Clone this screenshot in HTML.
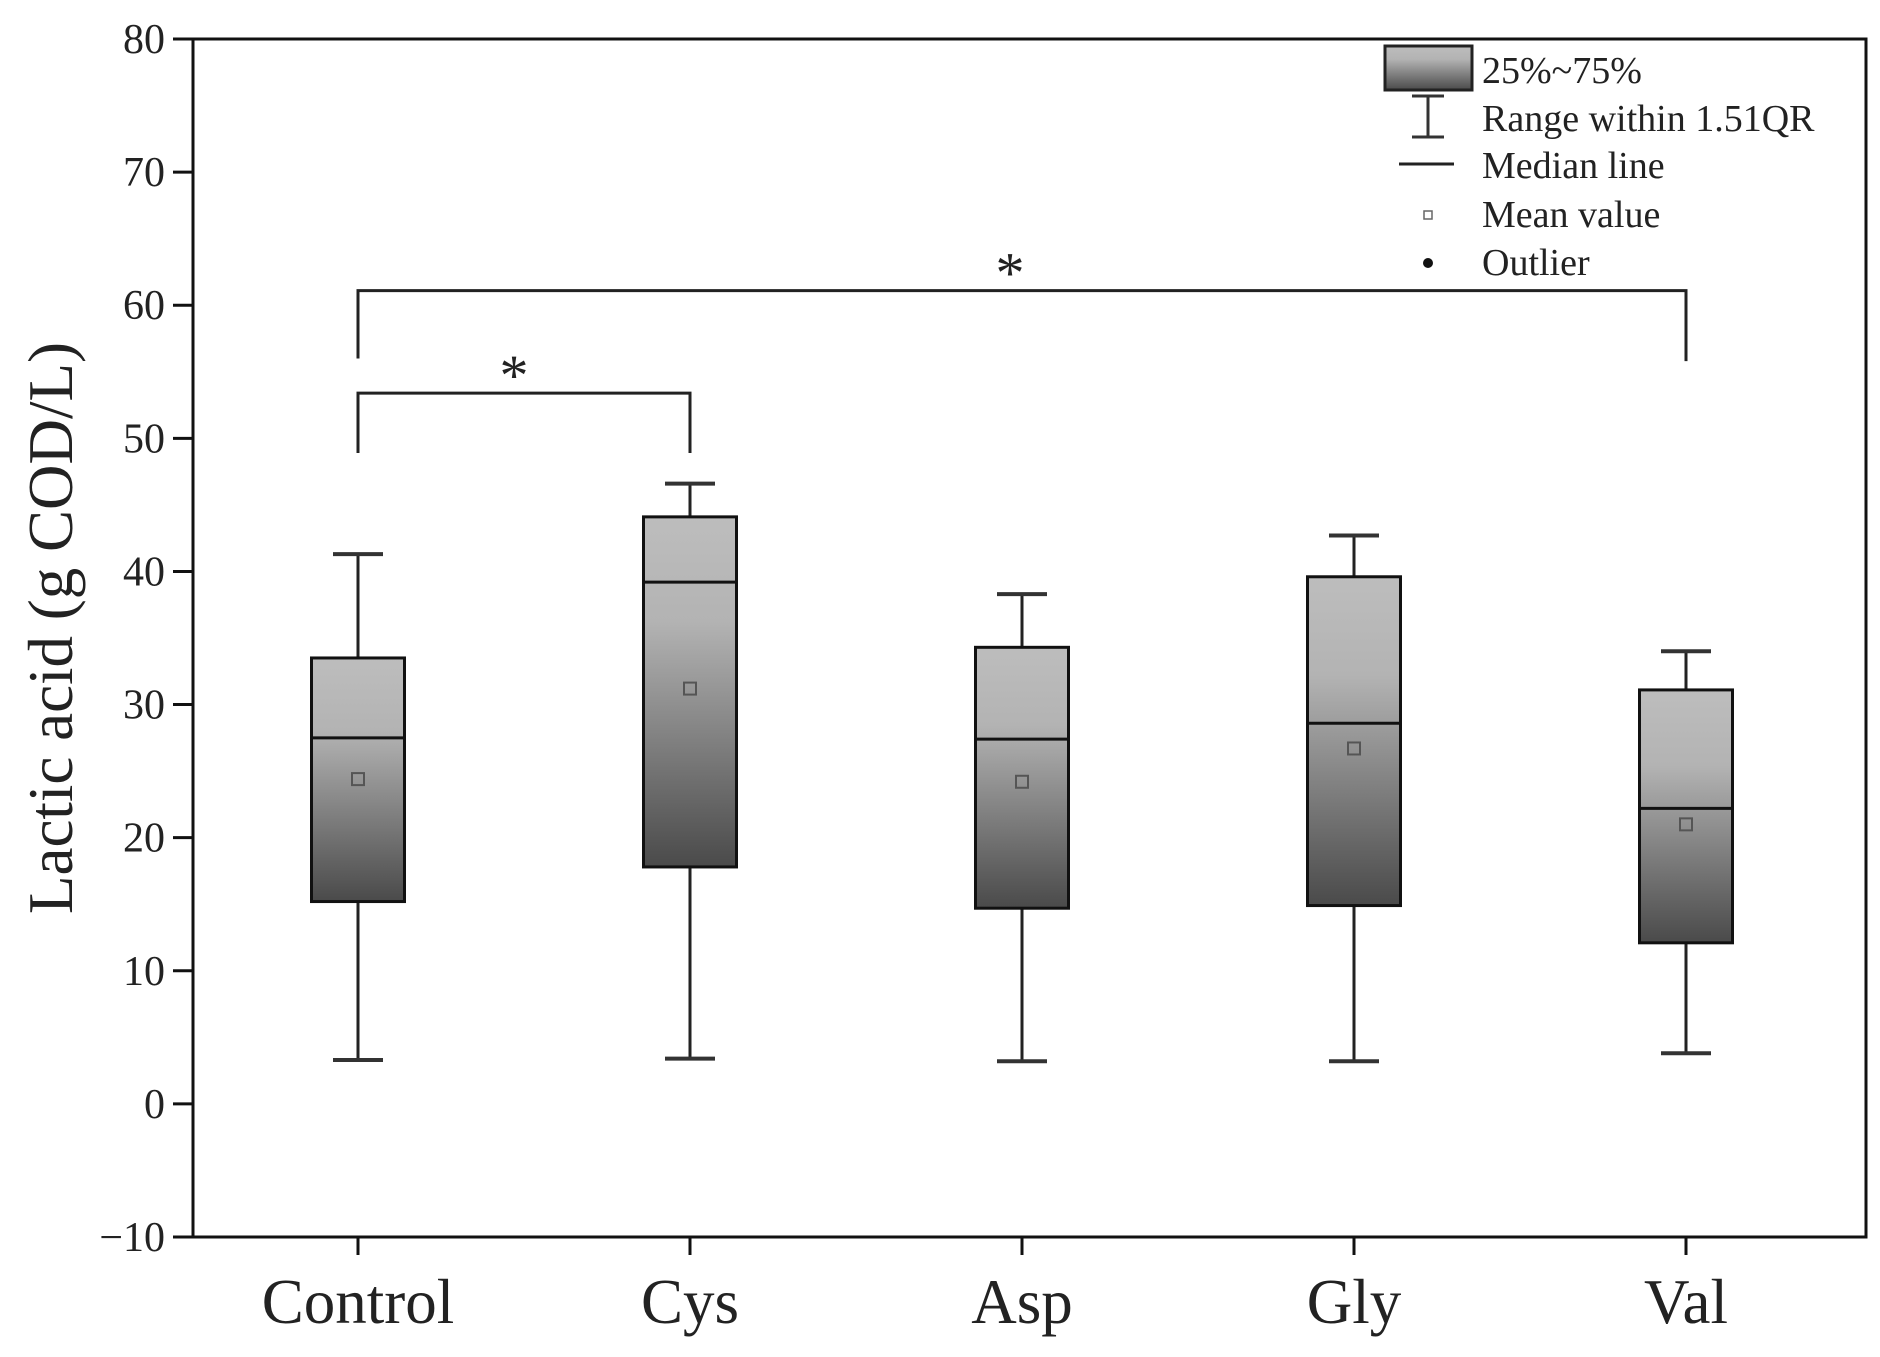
<!DOCTYPE html>
<html><head><meta charset="utf-8"><style>
body{margin:0;background:#fff}
svg{display:block;font-family:"Liberation Serif",serif}
</style></head><body>
<svg id="chart" width="1880" height="1357" viewBox="0 0 1880 1357" xmlns="http://www.w3.org/2000/svg">
<defs>
<linearGradient id="bg" x1="0" y1="0" x2="0" y2="1">
<stop offset="0" stop-color="#bdbdbd"/><stop offset="0.3" stop-color="#b3b3b3"/><stop offset="1" stop-color="#4a4a4a"/>
</linearGradient>
</defs>
<g id="axes"></g><g id="marks"></g>
<g font-size="38" fill="#222">
<rect x="1385" y="46" width="87" height="44" fill="url(#bg)" stroke="#222" stroke-width="3"/>
<text x="1482" y="83">25%~75%</text>
<line x1="1428" y1="96" x2="1428" y2="137" stroke="#333" stroke-width="3"/>
<line x1="1412" y1="96" x2="1444" y2="96" stroke="#333" stroke-width="3"/>
<line x1="1412" y1="137" x2="1444" y2="137" stroke="#333" stroke-width="3"/>
<text x="1482" y="131">Range within 1.51QR</text>
<line x1="1399" y1="164" x2="1454" y2="164" stroke="#222" stroke-width="3"/>
<text x="1482" y="178">Median line</text>
<rect x="1424" y="211" width="8" height="8" fill="none" stroke="#666" stroke-width="1.5"/>
<text x="1482" y="227">Mean value</text>
<circle cx="1428" cy="263" r="5" fill="#111"/>
<text x="1482" y="275">Outlier</text>
</g>
</svg>
<script>
const categories=["Control","Cys","Asp","Gly","Val"];
const whiskerLow=[3.3,3.4,3.2,3.2,3.8];
const q1=[15.2,17.8,14.7,14.9,12.1];
const median=[27.5,39.2,27.4,28.6,22.2];
const q3=[33.5,44.1,34.3,39.6,31.1];
const whiskerHigh=[41.3,46.6,38.3,42.7,34.0];
const means=[24.4,31.2,24.2,26.7,21.0];
const yTicks=[-10,0,10,20,30,40,50,60,70,80];
const brackets=[[0,1,53.4,48.9,48.9],[0,4,61.1,56,55.8]];

const L=193,R=1866,T=39,B=1237,ymin=-10,ymax=80;
const y=v=>B-(v-ymin)/(ymax-ymin)*(B-T);
const x=i=>358+i*((1686-358)/(categories.length-1));
const NS="http://www.w3.org/2000/svg";
function mk(tag,attrs,parent){const e=document.createElementNS(NS,tag);for(const k in attrs)e.setAttribute(k,attrs[k]);parent.appendChild(e);return e;}
const ax=document.getElementById('axes'),mg=document.getElementById('marks');
let fr=mk('rect',{x:L,y:T,width:R-L,height:B-T,fill:'none',stroke:'#111','stroke-width':3},ax);


yTicks.forEach(v=>{
 let t=mk('line',{x1:L-20,x2:L,y1:y(v),y2:y(v),stroke:'#111','stroke-width':3},ax);
 
 
 let tx=mk('text',{x:L-28,y:y(v)+14,'text-anchor':'end','font-size':42,fill:'#222'},ax);
 tx.textContent=(v<0?'\u2212'+(-v):v);
 
 
});
categories.forEach((c,i)=>{
 let t=mk('line',{x1:x(i),x2:x(i),y1:B,y2:B+18,stroke:'#111','stroke-width':3},ax);
 
 
 let tx=mk('text',{x:x(i),y:1323,'text-anchor':'middle','font-size':63,fill:'#222'},ax);
 tx.textContent=c;
 
 
 const cx=x(i),w=93,cw=50;
 let g=mk('g',{},mg);
 
 
 mk('line',{x1:cx,x2:cx,y1:y(whiskerLow[i]),y2:y(q1[i]),stroke:'#222','stroke-width':3},g);
 mk('line',{x1:cx,x2:cx,y1:y(whiskerHigh[i]),y2:y(q3[i]),stroke:'#222','stroke-width':3},g);
 mk('line',{x1:cx-cw/2,x2:cx+cw/2,y1:y(whiskerLow[i]),y2:y(whiskerLow[i]),stroke:'#333','stroke-width':4},g);
 mk('line',{x1:cx-cw/2,x2:cx+cw/2,y1:y(whiskerHigh[i]),y2:y(whiskerHigh[i]),stroke:'#333','stroke-width':4},g);
 mk('rect',{x:cx-w/2,y:y(q3[i]),width:w,height:y(q1[i])-y(q3[i]),fill:'url(#bg)',stroke:'#111','stroke-width':3},g);
 mk('line',{x1:cx-w/2,x2:cx+w/2,y1:y(median[i]),y2:y(median[i]),stroke:'#111','stroke-width':3},g);
 mk('rect',{x:cx-6,y:y(means[i])-6,width:12,height:12,fill:'none',stroke:'#555','stroke-width':2},g);
});
brackets.forEach(b=>{
 const [a,c,top,la,lc]=b;
 let p=mk('path',{d:`M${x(a)},${y(la)}V${y(top)}H${x(c)}V${y(lc)}`,fill:'none',stroke:'#222','stroke-width':3},mg);
 
 
 let s=mk('text',{x:(x(a)+x(c))/2+(c===4?-12:-10),y:y(top)+2,'text-anchor':'middle','font-size':58,fill:'#222'},mg);
 s.textContent='*';
 
 
});
let yt=mk('text',{x:0,y:0,transform:`translate(72,${(T+B)/2-10}) rotate(-90)`,'text-anchor':'middle','font-size':63,fill:'#222'},ax);
yt.textContent='Lactic acid (g COD/L)';


</script>
</body></html>
